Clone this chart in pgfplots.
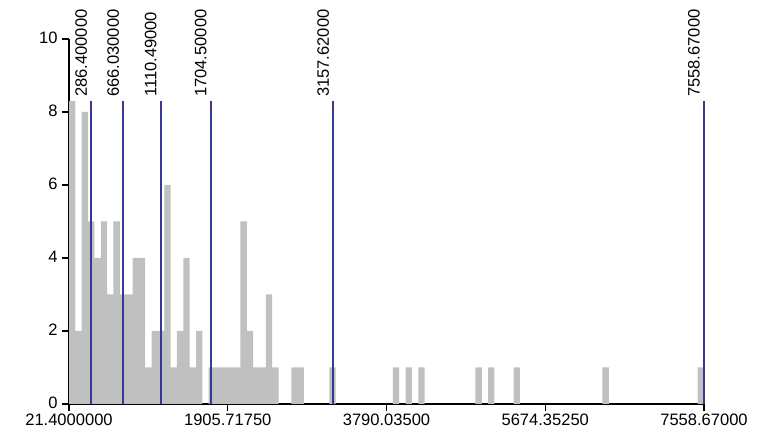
\documentclass[border=0pt]{standalone}
\usepackage{pgfplots}
\pgfplotsset{compat=1.18}
\usepackage{fontspec}
\setmainfont{Liberation Sans}
\definecolor{bargray}{RGB}{192,192,192}
\definecolor{breakblue}{RGB}{55,55,150}
\newcommand{\lblfont}{\fontsize{12.4pt}{14pt}\selectfont}
\begin{document}
\begin{tikzpicture}
\useasboundingbox (-51.75pt,-27.75pt) rectangle (517.5pt,303pt);
\begin{axis}[
 at={(0,0)}, anchor=south west,
 scale only axis, width=476.25pt, height=273.75pt,
 xmin=21.4, xmax=7558.67, ymin=0, ymax=10,
 axis x line*=bottom, axis y line*=left,
 axis line style={black, line width=0.8pt},
 tick align=outside, major tick length=5pt,
 tick style={black, line width=0.8pt},
 xtick={21.4,1905.7175,3790.035,5674.3525,7558.67},
 xticklabels={21.4000000,1905.71750,3790.03500,5674.35250,7558.67000},
 xticklabel style={yshift=1pt},
 yticklabel style={yshift=1pt},
 ytick={0,2,4,6,8,10},
 minor tick num=0,
 /pgf/number format/assume math mode=true,
 tick label style={font=\lblfont},
 clip=false,
]
\addplot[ybar, bar width=75.3727, bar shift=0pt, fill=bargray, draw=none] coordinates {
(59.09,8.3) (134.46,2) (209.83,8) (285.20,5) (360.58,4) (435.95,5) (511.32,3)
(586.70,5) (662.07,3) (737.44,3) (812.81,4) (888.19,4) (963.56,1) (1038.93,2)
(1114.30,2) (1189.68,6) (1265.05,1) (1340.42,2) (1415.80,4) (1491.17,1) (1566.54,2)
(1717.29,1) (1792.66,1) (1868.03,1) (1943.40,1) (2018.78,1) (2094.15,5) (2169.52,2)
(2244.90,1) (2320.27,1) (2395.64,3) (2471.01,1) (2697.13,1) (2772.50,1)
(3149.37,1) (3903.09,1) (4053.84,1) (4204.58,1) (4882.94,1) (5033.69,1)
(5335.18,1) (6390.40,1) (7520.99,1)
};
\addplot[ycomb, color=breakblue, line width=1.25pt, mark=none] coordinates {
(286.4,8.3) (666.03,8.3) (1110.49,8.3) (1704.5,8.3) (3157.62,8.3) (7558.67,8.3)
};
\foreach \v/\t in {286.4/286.400000, 666.03/666.030000, 1110.49/1110.49000, 1704.5/1704.50000, 3157.62/3157.62000, 7558.67/7558.67000}{
 \edef\temp{\noexpand\node[rotate=90, anchor=south west, inner sep=3pt, font=\noexpand\lblfont] at (axis cs:\v,8.3) {\t};}
 \temp
}
\end{axis}
\end{tikzpicture}
\end{document}
